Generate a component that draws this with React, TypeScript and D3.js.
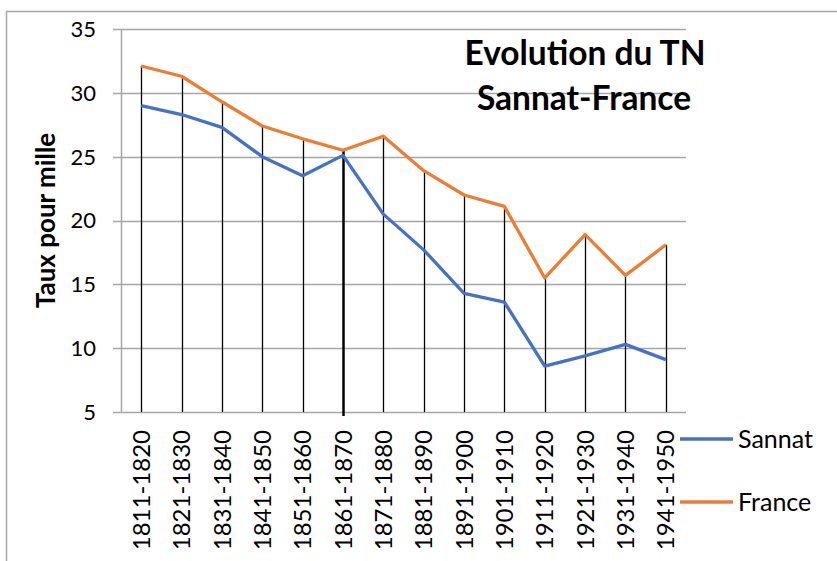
import React from "react";
import * as d3 from "d3";

const width = 837;
const height = 561;
const margin = { top: 29, right: 151, bottom: 149, left: 121 };

const periods = [
  "1811-1820", "1821-1830", "1831-1840", "1841-1850", "1851-1860",
  "1861-1870", "1871-1880", "1881-1890", "1891-1900", "1901-1910",
  "1911-1920", "1921-1930", "1931-1940", "1941-1950",
];
const sannat = [29.0, 28.3, 27.3, 25.0, 23.5, 25.1, 20.5, 17.7, 14.3, 13.6, 8.6, 9.4, 10.3, 9.1];
const france = [32.1, 31.3, 29.3, 27.4, 26.4, 25.5, 26.6, 23.9, 22.0, 21.1, 15.5, 18.9, 15.7, 18.1];
const yTicks = [5, 10, 15, 20, 25, 30, 35];

const series = [
  { name: "Sannat", values: sannat, color: "#4472C4" },
  { name: "France", values: france, color: "#ED7D31" },
];

const font = "Lato, 'Open Sans', sans-serif";

export default function App() {
  const x = d3
    .scaleBand()
    .domain(periods)
    .range([margin.left, width - margin.right]);
  const y = d3
    .scaleLinear()
    .domain([5, 35])
    .range([height - margin.bottom, margin.top]);
  const cx = (p: string) => (x(p) as number) + x.bandwidth() / 2;

  const line = d3
    .line<number>()
    .x((d, i) => cx(periods[i]))
    .y(d => y(d));

  const x0 = margin.left;
  const x1 = width - margin.right;
  const yBase = y(5);

  return (
    <div style={{ position: "absolute", left: 0, top: 0 }}>
      <svg width={width} height={height} style={{ display: "block" }}>
        <rect x={0} y={0} width={width} height={height} fill="#fff" />
        {/* chart area border, runs off the page */}
        <rect x={6.5} y={11.5} width={width + 10} height={height + 10} fill="none" stroke="#a6a6a6" strokeWidth={1.5} />

        {/* gridlines */}
        {yTicks.map(t => (
          <line key={t} x1={x0 - 8} x2={x1} y1={Math.round(y(t)) + 0.5} y2={Math.round(y(t)) + 0.5} stroke="#a6a6a6" strokeWidth={1.5} />
        ))}
        <line x1={x0 + 0.5} x2={x0 + 0.5} y1={y(35)} y2={yBase} stroke="#a6a6a6" strokeWidth={1.5} />

        {/* y tick labels */}
        {yTicks.map(t => (
          <text key={t} x={96} y={y(t)} dy="0.36em" textAnchor="end" fontFamily={font} fontSize={22} fill="#000">
            {t}
          </text>
        ))}

        {/* drop lines */}
        {periods.map((p, i) => {
          const top = Math.max(sannat[i], france[i]);
          const thick = p === "1861-1870";
          return (
            <line
              key={p}
              x1={Math.round(cx(p)) + 0.5}
              x2={Math.round(cx(p)) + 0.5}
              y1={y(top)}
              y2={thick ? yBase + 4 : yBase}
              stroke="#000"
              strokeWidth={thick ? 2.5 : 1.3}
            />
          );
        })}

        {/* series lines */}
        {series.map(s => (
          <path key={s.name} d={line(s.values) || ""} fill="none" stroke={s.color} strokeWidth={3.3} strokeLinejoin="round" />
        ))}

        {/* x labels */}
        {periods.map(p => (
          <text
            key={p}
            transform={`translate(${cx(p)},${yBase + 18}) rotate(-90)`}
            textAnchor="end"
            dy="0.36em"
            fontFamily={font}
            fontSize={24}
            fill="#000"
          >
            {p}
          </text>
        ))}

        {/* y axis title */}
        <text
          transform={`translate(46,${(y(35) + yBase) / 2}) rotate(-90)`}
          textAnchor="middle"
          dy="0.36em"
          fontFamily={font}
          fontWeight="bold"
          fontSize={26}
          fill="#000"
        >
          Taux pour mille
        </text>

        {/* title */}
        <text x={585} y={65} textAnchor="middle" fontFamily={font} fontWeight="bold" fontSize={33.5} fill="#000">
          Evolution du TN
        </text>
        <text x={584} y={110} textAnchor="middle" fontFamily={font} fontWeight="bold" fontSize={33.5} fill="#000">
          Sannat-France
        </text>

        {/* legend */}
        {series.map((s, i) => {
          const ly = i === 0 ? 439 : 502;
          return (
            <g key={s.name}>
              <line x1={680} x2={733} y1={ly} y2={ly} stroke={s.color} strokeWidth={3.3} />
              <text x={738} y={ly} dy="0.36em" fontFamily={font} fontSize={25} fill="#000">
                {s.name}
              </text>
            </g>
          );
        })}
      </svg>
    </div>
  );
}
